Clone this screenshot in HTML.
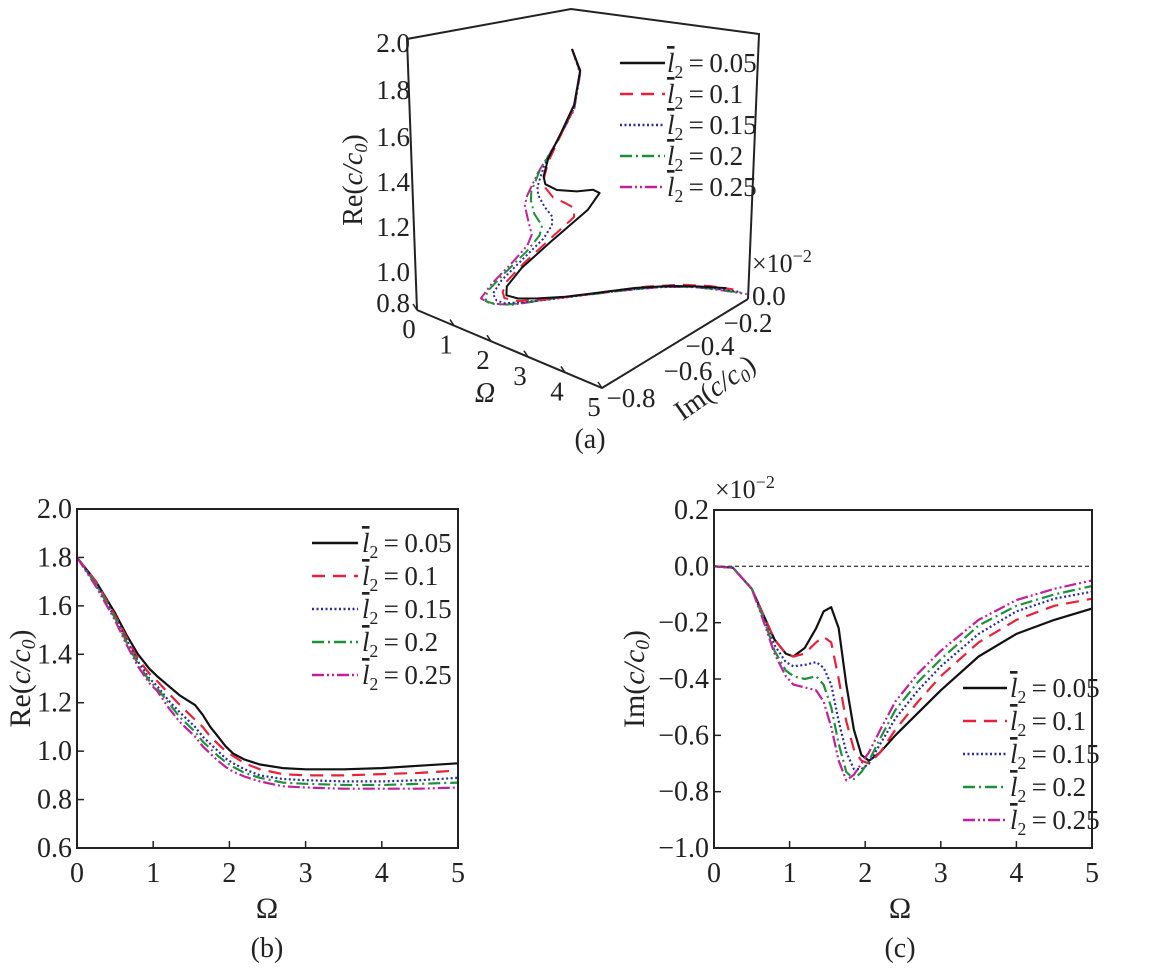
<!DOCTYPE html>
<html><head><meta charset="utf-8"><style>
html,body{margin:0;padding:0;background:#fff}
svg{display:block;font-family:"Liberation Serif",serif}
</style></head><body>
<svg id="fig" width="1158" height="974" viewBox="0 0 1158 974"></svg>
<script>
const omega=[0,0.25,0.5,0.65,0.8,0.95,1.05,1.2,1.35,1.45,1.55,1.65,1.75,1.85,1.95,2.05,2.2,2.4,2.7,3,3.5,4,4.5,5];
const seriesNames=["l2-0.05","l2-0.1","l2-0.15","l2-0.2","l2-0.25"];
const legendValues=["0.05","0.1","0.15","0.2","0.25"];
const reBlack=[1.80,1.70,1.57,1.48,1.40,1.34,1.31,1.27,1.23,1.21,1.19,1.15,1.10,1.06,1.02,0.99,0.965,0.945,0.93,0.925,0.925,0.93,0.94,0.95];
const reRed=[1.80,1.70,1.56,1.47,1.38,1.32,1.29,1.24,1.19,1.16,1.13,1.10,1.06,1.03,1.00,0.98,0.95,0.925,0.905,0.9,0.9,0.905,0.91,0.92];
const reBlue=[1.80,1.69,1.55,1.46,1.37,1.30,1.27,1.21,1.16,1.13,1.10,1.06,1.03,1.00,0.97,0.95,0.925,0.90,0.885,0.88,0.875,0.875,0.88,0.89];
const reGreen=[1.80,1.69,1.55,1.45,1.36,1.29,1.26,1.20,1.14,1.11,1.08,1.04,1.01,0.98,0.955,0.935,0.91,0.89,0.87,0.865,0.86,0.86,0.865,0.87];
const reMagenta=[1.80,1.68,1.54,1.44,1.35,1.28,1.25,1.18,1.12,1.09,1.06,1.02,0.99,0.96,0.935,0.915,0.895,0.875,0.855,0.85,0.845,0.845,0.845,0.85];
const imBlack=[0,-0.005,-0.08,-0.17,-0.26,-0.31,-0.32,-0.29,-0.22,-0.16,-0.145,-0.22,-0.42,-0.58,-0.67,-0.69,-0.66,-0.6,-0.52,-0.44,-0.32,-0.24,-0.19,-0.15];
const imRed=[0,-0.005,-0.08,-0.17,-0.26,-0.31,-0.32,-0.31,-0.27,-0.25,-0.27,-0.4,-0.55,-0.65,-0.69,-0.7,-0.66,-0.58,-0.48,-0.39,-0.27,-0.19,-0.14,-0.115];
const imBlue=[0,-0.005,-0.08,-0.18,-0.28,-0.34,-0.355,-0.35,-0.34,-0.36,-0.42,-0.55,-0.66,-0.72,-0.72,-0.7,-0.63,-0.54,-0.44,-0.355,-0.24,-0.16,-0.115,-0.09];
const imGreen=[0,-0.005,-0.08,-0.18,-0.3,-0.37,-0.39,-0.4,-0.39,-0.42,-0.5,-0.63,-0.73,-0.755,-0.73,-0.69,-0.61,-0.51,-0.41,-0.33,-0.21,-0.14,-0.1,-0.07];
const imMagenta=[0,-0.005,-0.08,-0.19,-0.31,-0.39,-0.42,-0.43,-0.44,-0.48,-0.57,-0.69,-0.76,-0.74,-0.7,-0.66,-0.58,-0.48,-0.38,-0.3,-0.19,-0.12,-0.08,-0.05];
const xTicks=[0,1,2,3,4,5];
const reTicks=[0.6,0.8,1.0,1.2,1.4,1.6,1.8,2.0];
const imTicks=[0.2,0.0,-0.2,-0.4,-0.6,-0.8,-1.0];

const reData=[reBlack,reRed,reBlue,reGreen,reMagenta];
const imData=[imBlack,imRed,imBlue,imGreen,imMagenta];
const colors=["#111","#e8203a","#2b2b9a","#1f8f3a","#c0209a"];
const dashes=["none","13 8","2 2.5","12 4 2 4","12 3 2 3 2 3"];
const NS="http://www.w3.org/2000/svg";
const svg=document.getElementById("fig");
function el(tag,attrs,parent){const e=document.createElementNS(NS,tag);for(const k in attrs)e.setAttribute(k,attrs[k]);(parent||svg).appendChild(e);return e;}
function txt(x,y,s,size,anchor,parent){const t=el("text",{x:x,y:y,"font-size":size,"text-anchor":anchor||"start",fill:"#222"},parent);t.textContent=s;return t;}
function fmt(v){const s=Math.abs(v).toFixed(1);return (v<-1e-9?"\u2212":"")+s;}
function legendLabel(g,x,y,val,size){
  const t=el("text",{x:x,y:y,"font-size":size,fill:"#222"},g);
  const a=el("tspan",{"font-style":"italic","text-decoration":"overline"},t);a.textContent="l";
  const b=el("tspan",{dy:6,"font-size":size*0.65},t);b.textContent="2";
  const c=el("tspan",{dy:-6},t);c.textContent="\u2009=\u2009"+val;
  return t;
}
function legend(x0,y0,dy,lineLen,textX,lname){
  const g=el("g",{});
  
  
  for(let i=0;i<5;i++){
    const e=el("g",{},g);
    
    
    el("line",{x1:x0,y1:y0+i*dy,x2:x0+lineLen,y2:y0+i*dy,stroke:colors[i],"stroke-width":2.4,"stroke-dasharray":dashes[i]},e);
    legendLabel(e,textX,y0+i*dy+9,legendValues[i],27);
  }
}
function c0label(g,x,y,pre,size,rot){
  const t=el("text",{x:x,y:y,"font-size":size,fill:"#222","text-anchor":"middle",transform:"rotate("+rot+" "+x+" "+y+")"},g);
  const a=el("tspan",{},t);a.textContent=pre+"(";
  const b=el("tspan",{"font-style":"italic"},t);b.textContent="c/c";
  const c=el("tspan",{dy:5,"font-size":size*0.65,"font-style":"italic"},t);c.textContent="0";
  const d=el("tspan",{dy:-5},t);d.textContent=")";
  return t;
}
function panel2d(L,R,T,B,ymin,ymax,ticks,data,pname,ylab,ylOff){
  const g=el("g",{});
  
  
  const X=v=>L+(v-0)/(5-0)*(R-L);
  const Y=v=>B-(v-ymin)/(ymax-ymin)*(B-T);
  xTicks.forEach(v=>{el("line",{x1:X(v),y1:B,x2:X(v),y2:B-7,stroke:"#222","stroke-width":1.5},g);txt(X(v),B+34,String(v),28,"middle",g);});
  ticks.forEach(v=>{el("line",{x1:L,y1:Y(v),x2:L+7,y2:Y(v),stroke:"#222","stroke-width":1.5},g);txt(L-5,Y(v)+9,fmt(v),28,"end",g);});
  data.forEach((arr,i)=>{
    const p=el("polyline",{points:arr.map((v,j)=>X(omega[j]).toFixed(1)+","+Y(v).toFixed(1)).join(" "),fill:"none",stroke:colors[i],"stroke-width":2.2,"stroke-dasharray":dashes[i],"stroke-linejoin":"round"},g);
    
    
  });
  el("rect",{x:L,y:T,width:R-L,height:B-T,fill:"none",stroke:"#222","stroke-width":2},g);
  const lx=L-ylOff+10, ly=(T+B)/2;
  const yl=c0label(g,lx,ly,ylab,30,-90);
  
  return {g:g,X:X,Y:Y};
}
// panel (b)
const pb=panel2d(77,458,509,848,0.6,2.0,reTicks,reData,"panel-b-re","Re",57);
txt(267,918,"\u03A9",30,"middle",pb.g);
txt(267,957,"(b)",28,"middle",pb.g);
legend(312,543,33,46,362,"legend-b");
// panel (c)
const pc=panel2d(714,1092,510,848,-1.0,0.2,imTicks,imData,"panel-c-im","Im",80);
el("line",{x1:714,y1:pc.Y(0),x2:1092,y2:pc.Y(0),stroke:"#444","stroke-width":1.3,"stroke-dasharray":"4 3"},pc.g);
txt(900,918,"\u03A9",30,"middle",pc.g);
txt(900,957,"(c)",28,"middle",pc.g);
const sc=txt(715,498,"\u00D710",26,"start",pc.g);
const scs=el("tspan",{dy:-10,"font-size":18},sc);scs.textContent="\u22122";

legend(963,688,33,44,1010,"legend-c");

// panel (a) 3D
const ga=el("g",{});


const P3x=(w,im,re)=>572+37*w+205*im;
const P3y=(w,im,re)=>355+15.6*w-111*im-170*re;
el("polyline",{points:"417,310 407,39 571,9 759,34 748,299",fill:"none",stroke:"#222","stroke-width":2},ga);
el("polyline",{points:"417,310 602,388 748,299",fill:"none",stroke:"#222","stroke-width":2},ga);
const reLabY=[303,272,227,182,137,90,43];
[0.8,1.0,1.2,1.4,1.6,1.8,2.0].forEach((v,i)=>{txt(410,reLabY[i]+9,v.toFixed(1),27,"end",ga);});
xTicks.forEach(v=>{const x=417+v*37,y=310+v*15.6;el("line",{x1:x,y1:y,x2:x-4,y2:y-6,stroke:"#222","stroke-width":1.5},ga);txt(x-8,y+28,String(v),27,"middle",ga);});
const imLab=[[0.0,752,305],[-0.2,748,332],[-0.4,710,355],[-0.6,688,380],[-0.8,631,407]];
imLab.forEach(a=>{txt(a[1],a[2],fmt(a[0]),27,a[0]===0?"start":"middle",ga);});
const sa=txt(752,272,"\u00D710",26,"start",ga);
const sas=el("tspan",{dy:-10,"font-size":18},sa);sas.textContent="\u22122";
const om=txt(485,402,"\u03A9",28,"middle",ga);om.setAttribute("font-style","italic");
const iml=c0label(ga,720,395,"Im",28,-35);
const rel=c0label(ga,362,180,"Re",28,-90);
txt(590,448,"(a)",28,"middle",ga);
for(let i=4;i>=0;i--){
  const p=el("polyline",{points:omega.map((w,j)=>P3x(w,imData[i][j],reData[i][j]).toFixed(1)+","+P3y(w,imData[i][j],reData[i][j]).toFixed(1)).join(" "),fill:"none",stroke:colors[i],"stroke-width":2,"stroke-dasharray":dashes[i],"stroke-linejoin":"round"},ga);
  
  
}
legend(620,63,31,45,667,"legend-a");
</script>
</body></html>
